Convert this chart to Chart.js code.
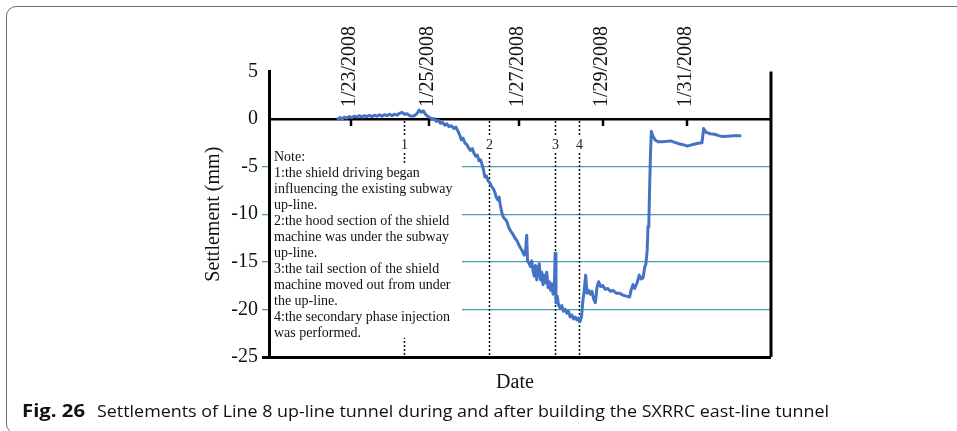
<!DOCTYPE html>
<html>
<head>
<meta charset="utf-8">
<script src="https://cdn.jsdelivr.net/npm/chart.js@4/dist/chart.umd.min.js"></script>
<style>
  html, body { margin: 0; padding: 0; background: #fff; }
  body { width: 957px; height: 431px; position: relative; overflow: hidden; }
  #frame { position: absolute; left: 6px; top: 6px; width: 1000px; height: 426px;
           border: 1.5px solid #6e6e6e; border-radius: 10px; }
  #chart { position: absolute; left: 0; top: 0; }
  .cap { position: absolute; top: 400px; font-family: "Open Sans", sans-serif; font-size: 17px;
         line-height: 22px; white-space: nowrap; transform-origin: 0 50%; color: #111; }
  #fig { left: 22px; font-weight: bold; }
  #captext { left: 97px; }
</style>
</head>
<body>
<div id="frame"></div>
<canvas id="chart" width="957" height="431"></canvas>
<div class="cap" id="fig">Fig. 26</div>
<div class="cap" id="captext">Settlements of Line 8 up-line tunnel during and after building the SXRRC east-line tunnel</div>
<script>
// days counted from 1/21/2008 00:00
const dayValues = [
  1.65, 1.70, 1.75, 1.80, 1.86, 1.92, 1.98, 2.04, 2.10, 2.16, 2.22, 2.28, 2.34, 2.40, 2.46, 2.52,
  2.58, 2.64, 2.70, 2.76, 2.82, 2.88, 2.94, 3.00, 3.06, 3.12, 3.18, 3.24, 3.30, 3.36, 3.42, 3.48,
  3.54, 3.59, 3.64, 3.69, 3.74, 3.79, 3.84,
  3.90, 3.95, 4.00, 4.05, 4.10, 4.15, 4.20, 4.25, 4.30, 4.36, 4.42, 4.47, 4.52, 4.56, 4.60, 4.64,
  4.68, 4.73, 4.78, 4.82, 4.86, 4.90, 4.94, 4.98, 5.02, 5.06, 5.10, 5.13, 5.16, 5.20, 5.24, 5.28,
  5.32, 5.36, 5.40, 5.43, 5.47, 5.50, 5.53, 5.57, 5.60, 5.64, 5.69, 5.73, 5.78, 5.83, 5.88, 5.93,
  5.98, 6.02, 6.06, 6.10, 6.13, 6.16, 6.18,
  6.21, 6.25, 6.28, 6.31, 6.34, 6.37, 6.40, 6.43, 6.46, 6.49, 6.52, 6.55, 6.58, 6.61, 6.64, 6.67,
  6.70, 6.73, 6.76, 6.79, 6.82, 6.84, 6.86, 6.89, 6.92, 6.96, 7.00, 7.04, 7.08, 7.12, 7.16, 7.20,
  7.24, 7.28, 7.32, 7.36, 7.40, 7.43, 7.47, 7.50, 7.53, 7.57, 7.60, 7.64, 7.68, 7.72, 7.76, 7.80,
  7.84, 7.88, 7.93, 7.98, 8.04, 8.10, 8.16, 8.22, 8.30, 8.38, 8.46, 8.54, 8.62, 8.66, 8.70, 8.74,
  8.80, 8.85, 8.90, 8.94, 8.98, 9.01, 9.04, 9.06, 9.08, 9.10, 9.12, 9.14, 9.18, 9.23, 9.30, 9.40,
  9.50, 9.60, 9.70, 9.80, 9.90, 10.00, 10.08, 10.16, 10.26, 10.35, 10.39, 10.45, 10.55, 10.65,
  10.75, 10.85, 10.95, 11.10, 11.26
];
const settlementValues = [
  0.0, 0.15, -0.05, 0.2, 0.1, 0.25, 0.15, 0.3, 0.2, 0.35, 0.2, 0.35, 0.25, 0.4, 0.25, 0.4,
  0.3, 0.45, 0.3, 0.45, 0.35, 0.5, 0.35, 0.5, 0.4, 0.6, 0.7, 0.5, 0.55, 0.35, 0.3, 0.35,
  0.6, 0.95, 0.7, 0.85, 0.5, 0.3, 0.15,
  0.0, 0.05, -0.25, -0.15, -0.45, -0.35, -0.65, -0.5, -0.8, -0.7, -1.0, -0.85, -1.3, -1.7, -2.2, -2.0,
  -2.5, -2.7, -3.1, -3.3, -3.1, -3.6, -3.9, -3.8, -4.4, -4.3, -4.9, -5.4, -6.1, -6.0, -6.5, -6.7,
  -7.1, -7.3, -7.7, -8.2, -8.5, -8.2, -9.1, -9.9, -10.3, -10.5, -10.8, -11.4, -11.8, -12.1, -12.5, -12.8,
  -13.3, -13.6, -13.9, -14.3, -14.0, -12.2, -14.9,
  -15.1, -15.5, -14.9, -15.9, -16.5, -15.4, -16.9, -15.8, -15.2, -16.9, -16.1, -17.4, -16.4, -17.2, -16.1, -17.7,
  -17.1, -18.0, -17.3, -18.4, -17.9, -14.1, -19.3, -18.6, -19.5, -19.9, -19.6, -20.2, -20.0, -20.4, -20.2, -20.8,
  -20.6, -21.0, -20.8, -21.1, -20.9, -21.3, -20.8, -19.2, -18.2, -16.4, -18.3, -18.0, -18.4, -18.1, -18.9, -19.3,
  -17.7, -17.1, -17.6, -17.5, -17.9, -17.8, -18.1, -18.0, -18.3, -18.3, -18.5, -18.6, -18.7, -17.9, -17.4, -17.8,
  -17.2, -16.4, -16.8, -16.7, -15.6, -15.2, -13.8, -11.3, -10.9, -7.0, -3.5, -1.3, -1.8, -2.2, -2.4, -2.4,
  -2.35, -2.3, -2.45, -2.6, -2.7, -2.85, -2.75, -2.65, -2.55, -2.5, -1.0, -1.4, -1.55, -1.6,
  -1.75, -1.85, -1.8, -1.75, -1.75
];

const tickDays = [1.96, 3.83, 5.98, 7.99, 9.99];
const tickLabels = ['1/23/2008', '1/25/2008', '1/27/2008', '1/29/2008', '1/31/2008'];

const eventDays = [3.23, 5.26, 6.84, 7.41];
const eventLabels = ['1', '2', '3', '4'];

const noteLines = [
  'Note:',
  '1:the shield driving began',
  'influencing the existing subway',
  'up-line.',
  '2:the hood section of the shield',
  'machine was under the subway',
  'up-line.',
  '3:the tail section of the shield',
  'machine moved out from under',
  'the up-line.',
  '4:the secondary phase injection',
  'was performed.'
];

const serif = '"Liberation Serif", "Times New Roman", serif';
const teal = '#4a9cb3';

const overlay = {
  id: 'overlay',
  beforeDatasetsDraw(chart) {
    const { ctx, chartArea: a, scales: { x, y } } = chart;
    const y0 = y.getPixelForValue(0);
    const yb = y.getPixelForValue(-25);
    ctx.save();

    // dotted marker lines
    ctx.strokeStyle = '#111';
    ctx.lineWidth = 1.5;
    ctx.setLineDash([2, 2]);
    eventDays.forEach(d => {
      const px = Math.round(x.getPixelForValue(d)) + 0.5;
      ctx.beginPath();
      ctx.moveTo(px, y0 + 2);
      ctx.lineTo(px, yb);
      ctx.stroke();
    });
    ctx.setLineDash([]);

    ctx.font = '14px ' + serif;
    ctx.textAlign = 'center';
    ctx.textBaseline = 'middle';
    eventDays.forEach((d, i) => {
      const px = Math.round(x.getPixelForValue(d)) + 0.5;
      ctx.fillStyle = '#fff';
      ctx.fillRect(px - 5, y0 + 18, 10, 16);
      ctx.fillStyle = '#222';
      ctx.fillText(eventLabels[i], px, y0 + 26);
    });

    // note box
    ctx.fillStyle = '#fff';
    ctx.fillRect(a.left + 2, 163, 462 - a.left - 2, 338 - 163);
    ctx.fillStyle = '#111';
    ctx.textAlign = 'left';
    noteLines.forEach((t, i) => ctx.fillText(t, 274, 157 + i * 16));
    ctx.restore();
  },
  afterDraw(chart) {
    const { ctx, chartArea: a, scales: { x, y } } = chart;
    const y0 = y.getPixelForValue(0);
    ctx.save();
    ctx.strokeStyle = '#000';
    ctx.lineWidth = 3;
    ctx.beginPath();
    ctx.moveTo(a.right, a.top);
    ctx.lineTo(a.right, a.bottom);
    ctx.stroke();

    // x axis sits on the zero line: ticks below, rotated date labels above
    ctx.lineWidth = 2.5;
    ctx.fillStyle = '#111';
    ctx.font = '20px ' + serif;
    ctx.textAlign = 'left';
    ctx.textBaseline = 'middle';
    x.ticks.forEach((t, i) => {
      const px = Math.round(x.getPixelForValue(t.value));
      ctx.beginPath();
      ctx.moveTo(px, y0);
      ctx.lineTo(px, y0 + 7);
      ctx.stroke();
      ctx.save();
      ctx.translate(px - 1, y0 - 12);
      ctx.rotate(-Math.PI / 2);
      ctx.fillText(tickLabels[i], 0, 0);
      ctx.restore();
    });

    ctx.textAlign = 'center';
    ctx.fillText('Date', 515, 383);
    ctx.restore();
  }
};

new Chart(document.getElementById('chart'), {
  type: 'line',
  data: {
    datasets: [{
      data: dayValues.map((d, i) => ({ x: d, y: settlementValues[i] })),
      borderColor: '#4472c4',
      borderWidth: 3,
      pointRadius: 0,
      tension: 0,
      borderJoinStyle: 'round',
      borderCapStyle: 'round'
    }]
  },
  options: {
    responsive: false,
    animation: false,
    devicePixelRatio: 1,
    layout: { padding: { left: 201.6, right: 186, top: 71.4, bottom: 74 } },
    plugins: { legend: { display: false }, tooltip: { enabled: false } },
    scales: {
      x: {
        type: 'linear',
        position: 'top',
        min: 0,
        max: 12,
        grid: { display: false, drawTicks: false },
        border: { display: false },
        afterBuildTicks: s => { s.ticks = tickDays.map(v => ({ value: v })); },
        afterFit: s => { s.height = 0; },
        ticks: { display: false }
      },
      y: {
        min: -25,
        max: 5,
        afterFit: s => { s.width = 269 - 201.6; },
        ticks: { stepSize: 5, padding: 4, color: '#111', font: { family: serif, size: 20 } },
        grid: {
          tickLength: 7,
          color: c => c.tick.value === 0 || c.tick.value === -25 ? '#000' : (c.tick.value === 5 ? 'rgba(0,0,0,0)' : teal),
          lineWidth: c => c.tick.value === 0 ? 2.5 : (c.tick.value === -25 ? 3 : 1.3),
          tickColor: c => c.tick.value === -25 ? '#000' : (c.tick.value === 0 || c.tick.value === 5 ? 'rgba(0,0,0,0)' : teal)
        },
        border: { display: true, color: '#000', width: 3 },
        title: { display: true, text: 'Settlement (mm)', color: '#111', padding: 0, font: { family: serif, size: 20 } }
      }
    }
  },
  plugins: [overlay]
});

// squeeze caption to the measured widths of the reference
[['fig', 63], ['captext', 732]].forEach(([id, w]) => {
  const el = document.getElementById(id);
  el.style.transform = 'scaleX(' + (w / el.getBoundingClientRect().width) + ')';
});
</script>
</body>
</html>
